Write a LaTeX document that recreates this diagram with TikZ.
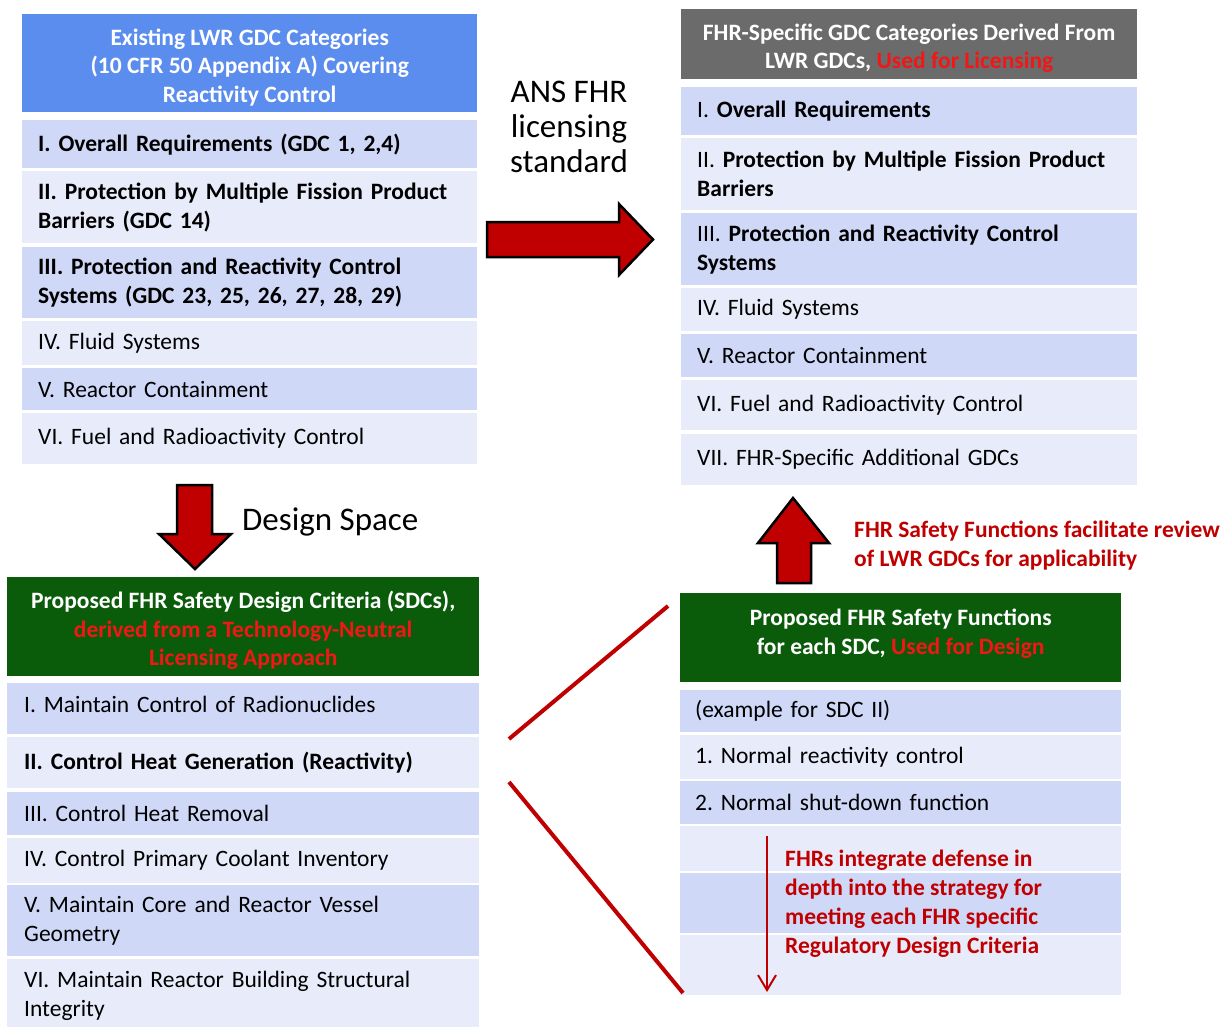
\documentclass[tikz,border=0pt]{standalone}
\usepackage{fontspec}
\setmainfont{Carlito}
\usetikzlibrary{arrows.meta}
\frenchspacing

\definecolor{hdrblue}{HTML}{5B8DEF}
\definecolor{hdrgray}{HTML}{6B6B6B}
\definecolor{hdrgreen}{HTML}{0A5C0A}
\definecolor{rowdark}{HTML}{CFD8F7}
\definecolor{rowlight}{HTML}{E8ECFA}
\definecolor{darkred}{HTML}{C00000}
\definecolor{brightred}{HTML}{F21616}

\tikzset{
  cell/.style={anchor=north west, inner ysep=0pt, align=left,
    font=\fontsize{23.5}{29}\selectfont, text=black},
  hdrbox/.style={anchor=north west, inner sep=0pt},
  hdrtext/.style={inner sep=0pt, align=center,
    font=\fontsize{23.5}{28.5}\selectfont\bfseries, text=white},
  blockarrow/.style={fill=darkred, draw=black, line width=2.5pt, line join=miter},
  zoomline/.style={draw=darkred, line width=4pt},
  bigtext/.style={font=\fontsize{33}{35}\selectfont, align=center, text=black},
  notetext/.style={font=\fontsize{23.5}{29}\selectfont\bfseries, align=left, text=darkred, anchor=west, inner sep=0pt},
}

\begin{document}
\begin{tikzpicture}[x=1pt, y=-1pt]
\path[use as bounding box] (0,0) rectangle (1230,1026);

% ---------- existing LWR GDC categories (top left) ----------
\node[hdrbox, fill=hdrblue, minimum width=455pt, minimum height=98pt] (tlh) at (22,14) {};
\node[hdrtext] (tlht) at ([yshift=-4pt]tlh.center)
  {Existing LWR GDC Categories\\(10 CFR 50 Appendix A) Covering\\Reactivity Control};
\node[cell, inner xsep=16pt, fill=rowdark, minimum width=455pt, minimum height=48pt, text width=423pt] (tl1) at (22,120)
  {\bfseries I. Overall Requirements (GDC 1, 2,4)};
\node[cell, inner xsep=16pt, fill=rowlight, minimum width=455pt, minimum height=72pt, text width=423pt] (tl2) at (22,171)
  {\bfseries II. Protection by Multiple Fission Product\\Barriers (GDC 14)};
\node[cell, inner xsep=16pt, fill=rowdark, minimum width=455pt, minimum height=71pt, text width=423pt] (tl3) at (22,247)
  {\bfseries III. Protection and Reactivity Control\\Systems (GDC 23, 25, 26, 27, 28, 29)};
\node[cell, inner xsep=16pt, fill=rowlight, minimum width=455pt, minimum height=44pt, text width=423pt] (tl4) at (22,321)
  {IV. Fluid Systems};
\node[cell, inner xsep=16pt, fill=rowdark, minimum width=455pt, minimum height=42pt, text width=423pt] (tl5) at (22,368)
  {V. Reactor Containment};
\node[cell, inner xsep=16pt, fill=rowlight, minimum width=455pt, minimum height=51pt, text width=423pt] (tl6) at (22,413)
  {VI. Fuel and Radioactivity Control};

% ---------- FHR-specific GDC categories (top right) ----------
\node[hdrbox, fill=hdrgray, minimum width=456pt, minimum height=70pt] (trh) at (681,9) {};
\node[hdrtext] (trht) at ([yshift=-4pt]trh.center)
  {FHR-Specific GDC Categories Derived From\\LWR GDCs, \textcolor{brightred}{Used for Licensing}};
\node[cell, inner xsep=16pt, fill=rowdark, minimum width=456pt, minimum height=48pt, text width=424pt] (tr1) at (681,87)
  {I. \textbf{Overall Requirements}};
\node[cell, inner xsep=16pt, fill=rowlight, minimum width=456pt, minimum height=72pt, text width=424pt] (tr2) at (681,138)
  {II. \textbf{Protection by Multiple Fission Product}\\\textbf{Barriers}};
\node[cell, inner xsep=16pt, fill=rowdark, minimum width=456pt, minimum height=72pt, text width=424pt] (tr3) at (681,213)
  {III. \textbf{Protection and Reactivity Control}\\\textbf{Systems}};
\node[cell, inner xsep=16pt, fill=rowlight, minimum width=456pt, minimum height=43pt, text width=424pt, yshift=0pt] (tr4) at (681,288)
  {IV. Fluid Systems};
\node[cell, inner xsep=16pt, fill=rowdark, minimum width=456pt, minimum height=43pt, text width=424pt] (tr5) at (681,334)
  {V. Reactor Containment};
\node[cell, inner xsep=16pt, fill=rowlight, minimum width=456pt, minimum height=50pt, text width=424pt] (tr6) at (681,380)
  {VI. Fuel and Radioactivity Control};
\node[cell, inner xsep=16pt, fill=rowlight, minimum width=456pt, minimum height=51pt, text width=424pt] (tr7) at (681,434)
  {VII. FHR-Specific Additional GDCs};

% ---------- proposed FHR safety design criteria (bottom left) ----------
\node[hdrbox, fill=hdrgreen, minimum width=472pt, minimum height=99pt] (blh) at (7,577) {};
\node[hdrtext] (blht) at ([yshift=-4pt]blh.center)
  {Proposed FHR Safety Design Criteria (SDCs),\\\textcolor{brightred}{derived from a Technology-Neutral}\\\textcolor{brightred}{Licensing Approach}};
\node[cell, inner xsep=17pt, fill=rowdark, minimum width=472pt, minimum height=51pt, text width=438pt] (bl1) at (7,683)
  {I. Maintain Control of Radionuclides\vspace*{8pt}};
\node[cell, inner xsep=17pt, fill=rowlight, minimum width=472pt, minimum height=51pt, text width=438pt] (bl2) at (7,737)
  {\bfseries II. Control Heat Generation (Reactivity)};
\node[cell, inner xsep=17pt, fill=rowdark, minimum width=472pt, minimum height=43pt, text width=438pt] (bl3) at (7,792)
  {III. Control Heat Removal};
\node[cell, inner xsep=17pt, fill=rowlight, minimum width=472pt, minimum height=45pt, text width=438pt] (bl4) at (7,838)
  {IV. Control Primary Coolant Inventory};
\node[cell, inner xsep=17pt, fill=rowdark, minimum width=472pt, minimum height=71pt, text width=438pt] (bl5) at (7,885)
  {V. Maintain Core and Reactor Vessel\\Geometry};
\node[cell, inner xsep=17pt, fill=rowlight, minimum width=472pt, minimum height=74pt, text width=438pt] (bl6) at (7,959)
  {VI. Maintain Reactor Building Structural\\Integrity};

% ---------- proposed FHR safety functions (bottom right) ----------
\node[hdrbox, fill=hdrgreen, minimum width=441pt, minimum height=89pt] (brh) at (680,593) {};
\node[hdrtext] (brht) at ([yshift=4pt]brh.center)
  {Proposed FHR Safety Functions\\for each SDC, \textcolor{brightred}{Used for Design}};
\node[cell, inner xsep=15pt, fill=rowdark, minimum width=441pt, minimum height=42pt, text width=411pt] (br1) at (680,690)
  {(example for SDC II)};
\node[cell, inner xsep=15pt, fill=rowlight, minimum width=441pt, minimum height=44pt, text width=411pt] (br2) at (680,735)
  {1. Normal reactivity control};
\node[cell, inner xsep=15pt, fill=rowdark, minimum width=441pt, minimum height=43pt, text width=411pt] (br3) at (680,781)
  {2. Normal shut-down function};
\node[cell, inner xsep=15pt, fill=rowlight, minimum width=441pt, minimum height=45pt, text width=411pt] (br4) at (680,826) {};
\node[cell, inner xsep=15pt, fill=rowdark, minimum width=441pt, minimum height=60pt, text width=411pt] (br5) at (680,873) {};
\node[cell, inner xsep=15pt, fill=rowlight, minimum width=441pt, minimum height=60pt, text width=411pt] (br6) at (680,935) {};

% defence-in-depth note with its thin arrow
\node[notetext] (did) at (785,904)
  {FHRs integrate defense in\\depth into the strategy for\\meeting each FHR specific\\Regulatory Design Criteria};
\coordinate (didtop) at (767,836);
\coordinate (didbot) at (767,992);
\draw[darkred, line width=2pt, -{Straight Barb[length=15pt,width=18pt,line width=2pt]}] (didtop) -- (didbot);

% ---------- labels ----------
\node[bigtext] (ans) at (569,127) {ANS FHR\\licensing\\standard};
\node[bigtext, anchor=west, inner sep=0pt] (dspace) at (242,522) {Design Space};
\node[notetext] (review) at (854,546)
  {FHR Safety Functions facilitate review\\of LWR GDCs for applicability};

% ---------- block arrows ----------
\draw[blockarrow] (487,222) -- (619,222) -- (619,204) -- (653,239.5) -- (619,275)
  -- (619,257) -- (487,257) -- cycle;
\draw[blockarrow] (177,485) -- (212,485) -- (212,534) -- (231,534) -- (195,569)
  -- (159,534) -- (177,534) -- cycle;
\draw[blockarrow] (777,583) -- (811,583) -- (811,543) -- (829,543) -- (793,498)
  -- (758,543) -- (777,543) -- cycle;

% ---------- zoom lines from SDC II to its safety functions ----------
\coordinate (zA1) at (509,739);
\coordinate (zA2) at (668,606);
\coordinate (zB1) at (509,782);
\coordinate (zB2) at (683,993);
\draw[zoomline] (zA1) -- (zA2);
\draw[zoomline] (zB1) -- (zB2);
\end{tikzpicture}
\end{document}
